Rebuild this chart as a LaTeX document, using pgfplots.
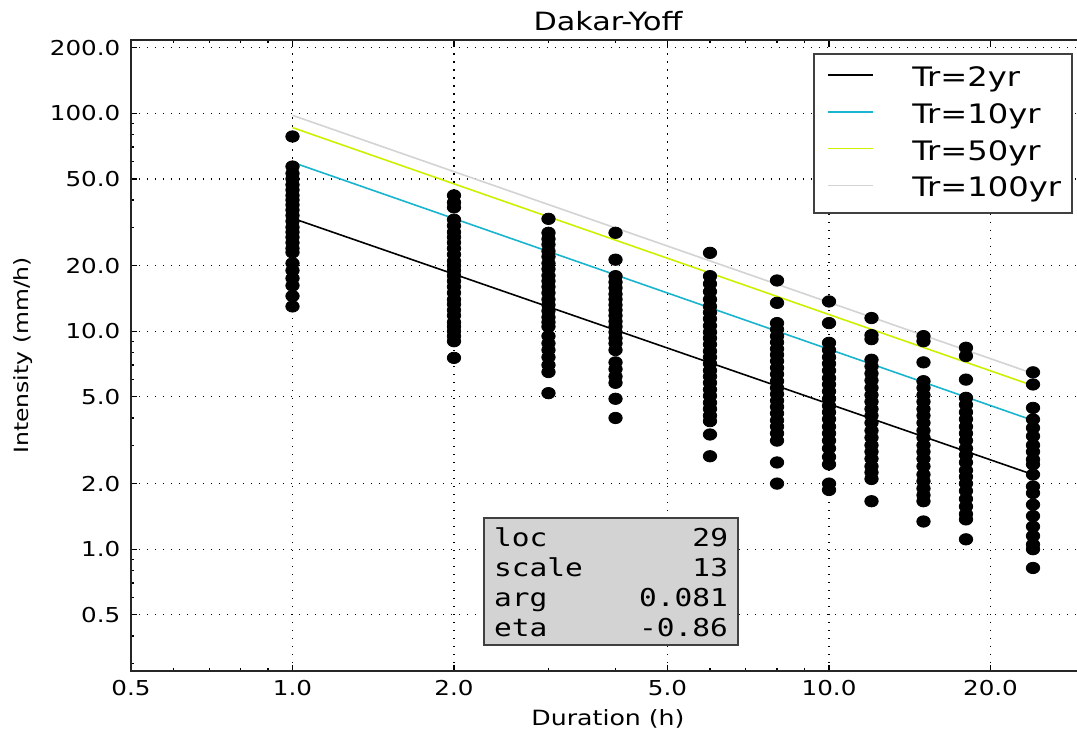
\documentclass[border=0pt]{standalone}
\usepackage{fontspec}
\setmainfont{DejaVu Sans}[FakeStretch=1.2]
\newfontfamily\monofont{DejaVu Sans Mono}[FakeStretch=1.2]
\usepackage{pgfplots}
\usepackage{pgfplotstable}
\pgfplotsset{compat=1.18}

\definecolor{cTen}{RGB}{25,180,205}
\definecolor{cFifty}{RGB}{204,240,0}
\definecolor{cHundred}{RGB}{211,211,211}
\definecolor{boxgray}{RGB}{211,211,211}

\pgfplotstableread{
d I
1 78.3
1 57
1 53
1 50
1 47
1 44.5
1 42
1 40
1 38
1 36
1 34
1 32
1 30
1 28.5
1 27
1 25.5
1 24
1 23
1 20.5
1 19
1 17.5
1 16.2
1 14.5
1 13.0
2 42
2 39
2 37
2 32.5
2 30.5
2 28.5
2 27
2 25.5
2 24
2 22.5
2 21
2 20
2 19
2 18
2 17
2 16
2 15
2 14
2 13.3
2 12.5
2 11.8
2 11
2 10.5
2 10
2 9.5
2 9
2 7.55
3 32.8
3 28.3
3 26.5
3 25
3 23.3
3 22
3 20.5
3 19.3
3 18
3 17
3 16
3 15
3 14
3 13.2
3 12.4
3 11.6
3 11
3 10.5
3 9.5
3 8.8
3 8.2
3 7.6
3 7
3 6.5
3 5.2
4 28.3
4 21.3
4 17.9
4 16.8
4 15.8
4 14.8
4 14
4 13.2
4 12.5
4 11.8
4 11.1
4 10.5
4 9.9
4 9.3
4 8.8
4 8.2
4 7.2
4 6.7
4 6.2
4 5.8
4 4.9
4 4.0
6 22.9
6 17.9
6 16.5
6 15.2
6 14
6 13
6 12.2
6 11.4
6 10.6
6 9.9
6 9.3
6 8.7
6 8.1
6 7.6
6 7.1
6 6.6
6 6.2
6 5.8
6 5.4
6 5.05
6 4.7
6 4.4
6 4.1
6 3.87
6 3.36
6 2.67
8 17.1
8 13.5
8 10.9
8 10.2
8 9.5
8 8.9
8 8.3
8 7.8
8 7.3
8 6.8
8 6.35
8 5.9
8 5.5
8 5.15
8 4.8
8 4.5
8 4.2
8 3.9
8 3.65
8 3.4
8 3.15
8 2.5
8 2.0
10 13.7
10 10.9
10 8.85
10 8.2
10 7.6
10 7.1
10 6.6
10 6.1
10 5.7
10 5.3
10 4.9
10 4.55
10 4.25
10 3.95
10 3.65
10 3.4
10 3.15
10 2.9
10 2.65
10 2.45
10 2.0
10 1.87
12 11.5
12 9.6
12 9.2
12 7.4
12 6.9
12 6.4
12 5.95
12 5.5
12 5.1
12 4.75
12 4.4
12 4.1
12 3.8
12 3.5
12 3.25
12 3.0
12 2.8
12 2.6
12 2.4
12 2.25
12 2.1
12 1.66
15 9.5
15 9.0
15 7.2
15 5.9
15 5.5
15 5.1
15 4.75
15 4.4
15 4.1
15 3.8
15 3.5
15 3.25
15 3.0
15 2.8
15 2.6
15 2.4
15 2.2
15 2.05
15 1.9
15 1.77
15 1.66
15 1.34
18 8.4
18 7.7
18 6.0
18 4.95
18 4.6
18 4.25
18 3.95
18 3.65
18 3.4
18 3.15
18 2.9
18 2.7
18 2.5
18 2.3
18 2.15
18 2.0
18 1.85
18 1.7
18 1.57
18 1.45
18 1.37
18 1.11
24 6.48
24 5.7
24 4.45
24 3.94
24 3.6
24 3.3
24 3.0
24 2.8
24 2.58
24 2.45
24 2.2
24 1.94
24 1.81
24 1.6
24 1.42
24 1.27
24 1.15
24 1.05
24 1.0
24 0.82
}\obs

\begin{document}
\begin{tikzpicture}
\path[use as bounding box] (-65.5bp,-30.15bp) rectangle (473bp,335.35bp);
\begin{axis}[
  at={(0,0)}, anchor=south west,
  scale only axis, width=477bp, height=315.35bp,
  xmode=log, ymode=log,
  xmin=0.5, xmax=30, ymin=0.277, ymax=217,
  xtick={0.5,1,2,5,10,20}, xticklabels={0.5,1.0,2.0,5.0,10.0,20.0},
  minor xtick={0.6,0.7,0.8,0.9,3,4,6,7,8,9},
  ytick={0.5,1,2,5,10,20,50,100,200},
  yticklabels={0.5,1.0,2.0,5.0,10.0,20.0,50.0,100.0,200.0},
  minor ytick={0.3,0.4,0.6,0.7,0.8,0.9,3,4,6,7,8,9,30,40,60,70,80,90},
  grid=major,
  major grid style={black, line width=0.6bp, dash pattern=on 0.6bp off 3.4bp},
  tick align=inside, major tick length=3bp, minor tick length=1.6bp,
  tick style={black, line width=0.6bp},
  axis line style={black!85, line width=1bp},
  tick label style={font=\fontsize{10.25bp}{12bp}\selectfont},
  xticklabel style={anchor=north, inner sep=0pt, yshift=-4.65bp},
  yticklabel style={anchor=east, inner sep=0pt, xshift=-5.15bp},
  title={Dakar-Yoff},
  title style={font=\fontsize{12.6bp}{15bp}\selectfont, at={(axis description cs:0.5,1.01475)}, anchor=base, inner sep=0pt, yshift=-6pt},
  xlabel={Duration (h)},
  xlabel style={font=\fontsize{10.5bp}{12bp}\selectfont, at={(axis description cs:0.5,-0.0872)}, anchor=base, inner sep=0pt},
  ylabel={Intensity (mm/h)},
  ylabel style={font=\fontsize{9.8bp}{12bp}\selectfont, at={(axis description cs:-0.1132,0.5)}, anchor=center, inner sep=0pt},
  legend cell align=left,
  legend image code/.code={\draw[#1] (0bp,1.5bp) (3bp,1.5bp) -- (25.5bp,1.5bp);},
  legend style={at={(axis description cs:1,1)}, anchor=north east, xshift=-6bp, yshift=-6.35bp,
    draw=black!75, line width=1bp, fill=white,
    inner xsep=3.5bp, inner ysep=4.4bp, row sep=3.0bp, column sep=17.5bp,
    font=\fontsize{13.4bp}{15bp}\selectfont},
]
\addplot[only marks, mark=*, mark size=2.85bp, mark options={draw=black, fill=black, xscale=1.18}, forget plot]
  table[x=d, y=I] {\obs};
\addplot[black, line width=0.8bp] coordinates {(1,33.0) (24,2.2)};
\addlegendentry{Tr=2yr}
\addplot[cTen, line width=0.8bp] coordinates {(1,59.6) (24,3.9)};
\addlegendentry{Tr=10yr}
\addplot[cFifty, line width=0.8bp] coordinates {(1,86) (24,5.63)};
\addlegendentry{Tr=50yr}
\addplot[cHundred, line width=0.8bp] coordinates {(1,97.9) (24,6.4)};
\addlegendentry{Tr=100yr}
\node[anchor=south west, fill=boxgray, draw=black!75, line width=1bp, inner xsep=5bp, inner ysep=4.2bp,
  align=left, font={\monofont\fontsize{12.3bp}{14.9bp}\selectfont}]
  at (rel axis cs:0.369,0.0392)
  {\rule{0pt}{10bp}\makebox[117bp]{loc\hfill 29}\\
   \makebox[117bp]{scale\hfill 13}\\
   \makebox[117bp]{arg\hfill 0.081}\\
   \makebox[117bp]{eta\hfill -0.86}};
\end{axis}
\end{tikzpicture}
\end{document}
